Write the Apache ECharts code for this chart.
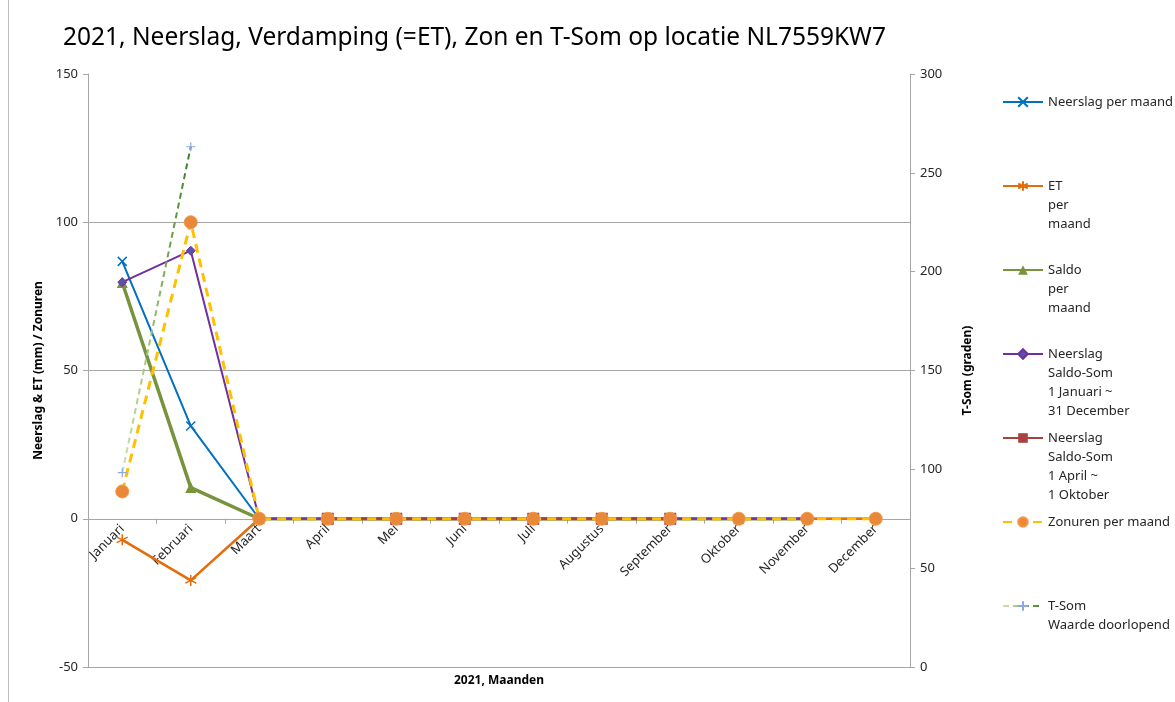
<!DOCTYPE html>
<html>
<head>
<meta charset="utf-8">
<script src="https://cdn.jsdelivr.net/npm/echarts@6/dist/echarts.min.js"></script>
<style>
  html, body { margin: 0; padding: 0; background: #fff; }
  #chart { width: 1175px; height: 702px; }
</style>
</head>
<body>
<div id="chart"></div>
<script>
// Maanden en maandwaarden 2021
const months = ['Januari', 'Februari', 'Maart', 'April', 'Mei', 'Juni', 'Juli',
  'Augustus', 'September', 'Oktober', 'November', 'December'];
const neerslag = [86.8, 31.3, 0, 0, 0, 0, 0, 0, 0, 0, 0, 0];
const et = [-7.1, -20.8, 0, 0, 0, 0, 0, 0, 0, 0, 0, 0];
const saldo = [79.7, 10.5, 0, 0, 0, 0, 0, 0, 0, 0, 0, null];
const saldoSomJaar = [79.8, 90.4, 0, 0, 0, 0, 0, 0, 0, 0, 0, null];
const saldoSomZomer = [null, null, null, 0, 0, 0, 0, 0, 0, null, null, null];
const zonuren = [9.2, 100, 0, 0, 0, 0, 0, 0, 0, 0, 0, 0];
const tSom = [98.3, 263.2, null, null, null, null, null, null, null, null, null, null];

const leftTicks = { min: -50, max: 150, interval: 50 };
const rightTicks = { min: 0, max: 300, interval: 50 };

const legendText = {
  'Neerslag per maand': 'Neerslag per maand',
  'ET per maand': 'ET\nper\nmaand',
  'Saldo per maand': 'Saldo\nper\nmaand',
  'Saldo-Som jaar': 'Neerslag\nSaldo-Som\n1 Januari ~\n31 December',
  'Saldo-Som zomer': 'Neerslag\nSaldo-Som\n1 April ~\n1 Oktober',
  'Zonuren per maand': 'Zonuren per maand',
  'T-Som': 'T-Som\nWaarde doorlopend'
};

const FONT = 'Noto Sans';
const LH = 19;

const W = 1175, H = 702;
const GRID = { left: 88, right: 265, top: 74, bottom: 35 };
const plotHeight = H - GRID.top - GRID.bottom;
// lift the month axis from the bottom of the plot to the 0 mm level
const zeroOffset = -plotHeight * (0 - leftTicks.min) / (leftTicks.max - leftTicks.min);

// one legend block per series; blank lines above the text keep the
// icon level with the first text line
const legendCenters = [102, 186, 270, 354, 438, 522, 606];
const legends = Object.keys(legendText).map((name, i) => {
  const n = legendText[name].split('\n').length;
  return {
    data: [name],
    orient: 'vertical',
    left: 1002,
    top: legendCenters[i] - (2 * n - 1) * LH / 2,
    padding: 0,
    itemWidth: 40,
    itemHeight: 12,
    itemGap: 0,
    selectedMode: false,
    formatter: (nm) => ' \n'.repeat(n - 1) + legendText[nm],
    textStyle: { fontFamily: FONT, fontSize: 13, color: '#262626', lineHeight: LH }
  };
});

const xPath = 'path://M0,0L10,10M10,0L0,10';
const starPath = 'path://M5,0L5,10M0.7,2.5L9.3,7.5M0.7,7.5L9.3,2.5';
const plusPath = 'path://M5,0L5,10M0,5L10,5';

const chart = echarts.init(document.getElementById('chart'), null, { renderer: 'canvas' });
chart.setOption({
  animation: false,
  backgroundColor: '#fff',
  title: {
    text: '2021, Neerslag, Verdamping (=ET), Zon en T-Som op locatie NL7559KW7',
    left: 58, top: 21,
    textStyle: { fontFamily: FONT, fontSize: 24.5, fontWeight: 'normal', color: '#000' }
  },
  legend: legends,
  grid: Object.assign({ containLabel: false }, GRID),
  xAxis: {
    type: 'category',
    data: months,
    boundaryGap: true,
    position: 'bottom',
    offset: zeroOffset,
    name: '2021, Maanden',
    nameLocation: 'middle',
    nameGap: 156,
    nameTextStyle: { fontFamily: FONT, fontSize: 12, fontWeight: 'bold', color: '#000' },
    axisLine: { onZero: false, lineStyle: { color: '#a6a6a6', width: 1 } },
    axisTick: { show: true, length: 5, alignWithLabel: false, lineStyle: { color: '#a6a6a6' } },
    axisLabel: { rotate: 45, margin: 8, fontFamily: FONT, fontSize: 13, color: '#262626', interval: 0 },
    splitLine: { show: false }
  },
  yAxis: [
    {
      type: 'value',
      min: leftTicks.min, max: leftTicks.max, interval: leftTicks.interval,
      name: 'Neerslag & ET (mm) / Zonuren',
      nameLocation: 'middle', nameGap: 41, nameRotate: 90,
      nameTextStyle: { fontFamily: FONT, fontSize: 12, fontWeight: 'bold', color: '#000' },
      axisLine: { show: true, lineStyle: { color: '#a6a6a6' } },
      axisTick: { show: true, length: 5, lineStyle: { color: '#a6a6a6' } },
      axisLabel: { fontFamily: FONT, fontSize: 13, color: '#262626', margin: 10 },
      splitLine: { show: true, lineStyle: { color: ['#a6a6a6', '#a6a6a6', '#a6a6a6', '#a6a6a6', 'rgba(0,0,0,0)'], width: 1 } }
    },
    {
      type: 'value',
      position: 'right',
      min: rightTicks.min, max: rightTicks.max, interval: rightTicks.interval,
      name: 'T-Som (graden)',
      nameLocation: 'middle', nameGap: 52, nameRotate: 90,
      nameTextStyle: { fontFamily: FONT, fontSize: 12, fontWeight: 'bold', color: '#000' },
      axisLine: { show: true, lineStyle: { color: '#a6a6a6' } },
      axisTick: { show: true, length: 5, lineStyle: { color: '#a6a6a6' } },
      axisLabel: { fontFamily: FONT, fontSize: 13, color: '#262626', margin: 10 },
      splitLine: { show: false }
    }
  ],
  graphic: [
    { type: 'line', shape: { x1: 8.5, y1: 0, x2: 8.5, y2: H }, style: { stroke: '#bfbfbf', lineWidth: 1 } }
  ],
  series: [
    {
      name: 'Neerslag per maand', type: 'line', data: neerslag, yAxisIndex: 0,
      symbol: xPath, symbolSize: 9,
      lineStyle: { color: '#0070c0', width: 2 },
      itemStyle: { color: '#0070c0', borderColor: '#0070c0', borderWidth: 1.5 }
    },
    {
      name: 'ET per maand', type: 'line', data: et, yAxisIndex: 0,
      symbol: starPath, symbolSize: 11,
      lineStyle: { color: '#e46c0a', width: 2.5 },
      itemStyle: { color: '#e46c0a', borderColor: '#e46c0a', borderWidth: 1.5 }
    },
    {
      name: 'Saldo per maand', type: 'line', data: saldo, yAxisIndex: 0,
      symbol: 'triangle', symbolSize: 11,
      lineStyle: { color: '#77933c', width: 3.5 },
      itemStyle: { color: '#77933c' }
    },
    {
      name: 'Saldo-Som jaar', type: 'line', data: saldoSomJaar, yAxisIndex: 0,
      symbol: 'diamond', symbolSize: 9,
      lineStyle: { color: '#7030a0', width: 2 },
      itemStyle: { color: '#5b52a6', borderColor: '#7030a0', borderWidth: 1 }
    },
    {
      name: 'Saldo-Som zomer', type: 'line', data: saldoSomZomer, yAxisIndex: 0,
      symbol: 'rect', symbolSize: 12,
      lineStyle: { color: '#a9423f', width: 3 },
      itemStyle: { color: '#a9423f' }
    },
    {
      name: 'Zonuren per maand', type: 'line', data: zonuren, yAxisIndex: 0,
      symbol: 'circle', symbolSize: 13,
      lineStyle: { color: '#ffc000', width: 3, type: [9, 6] },
      itemStyle: { color: '#e8893a', borderColor: '#f79646', borderWidth: 1 }
    },
    {
      name: 'T-Som', type: 'line', data: tSom, yAxisIndex: 1,
      symbol: plusPath, symbolSize: 9,
      lineStyle: {
        width: 2, type: [6, 4],
        color: new echarts.graphic.LinearGradient(0, 0, 1, 0, [
          { offset: 0, color: '#d3e2b6' },
          { offset: 0.45, color: '#9bbf6b' },
          { offset: 1, color: '#2f7a2a' }
        ])
      },
      itemStyle: { color: '#8ea9db', borderColor: '#8ea9db', borderWidth: 1.2 }
    }
  ]
});
</script>
</body>
</html>
